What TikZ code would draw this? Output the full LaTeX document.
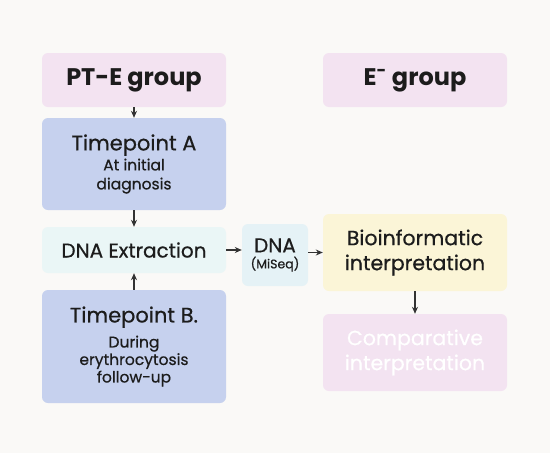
\documentclass[tikz,border=0pt]{standalone}
\usepackage{fontspec}
\setmainfont{Poppins}
\newfontfamily\medfont{Poppins}[FakeBold=0.6]
\usepackage{xcolor}
\usetikzlibrary{positioning,arrows.meta}

\definecolor{bgcol}{HTML}{FAF9F7}
\definecolor{groupcol}{HTML}{F3E3F1}
\definecolor{timecol}{HTML}{C6D1EE}
\definecolor{extrcol}{HTML}{EAF6F6}
\definecolor{seqcol}{HTML}{E5F2F6}
\definecolor{biocol}{HTML}{FBF5D7}
\definecolor{arrowcol}{HTML}{333333}
\definecolor{textcol}{HTML}{1C1C1C}

\newcommand{\bigtxt}{\fontsize{21}{24}\selectfont}

\tikzset{
  box/.style={rounded corners=6pt, draw=none, align=center, inner sep=0pt, text=textcol},
  groupbox/.style={box, fill=groupcol, minimum width=184pt, minimum height=54pt, font=\fontsize{24}{26}\selectfont\bfseries},
  timebox/.style={box, fill=timecol, minimum width=184pt},
  flow/.style={-{Stealth[length=7pt, width=6pt]}, arrowcol, line width=1.1pt}
}

\begin{document}
\begin{tikzpicture}[x=1pt, y=-1pt]

% Background and fixed size
\fill[bgcol] (0,0) rectangle (550,453);
\useasboundingbox (0,0) rectangle (550,453);

% Group headers
\node[groupbox] (pteGroup) at (134, 80) {PT-E group};
\node[groupbox] (eGroup) at (415, 80) {E\textsuperscript{-} group};

% Left column: timepoints and extraction
\node[timebox, minimum height=92pt, font=\medfont\fontsize{15.5}{19}\selectfont] (tpA) at (134, 164)
  {\bigtxt Timepoint A\\[1pt] At initial\\ diagnosis};
\node[box, fill=extrcol, minimum width=184pt, minimum height=46pt,
  font=\medfont\fontsize{20}{22}\selectfont] (dnaExt) at (134, 250) {DNA Extraction};
\node[timebox, minimum height=113pt, font=\medfont\fontsize{15.5}{17.5}\selectfont] (tpB) at (134, 346.5)
  {\bigtxt Timepoint B.\\[7.5pt] During\\ erythrocytosis\\ follow-up};

% Sequencing
\node[box, fill=seqcol, minimum width=66pt, minimum height=62pt,
  font=\medfont\fontsize{12.5}{16}\selectfont] (dnaSeq) at (275, 255)
  {\fontsize{20}{20}\selectfont DNA\\ (MiSeq)};

% Right column
\node[box, fill=biocol, minimum width=184pt, minimum height=77pt,
  font=\medfont\fontsize{20.5}{25}\selectfont] (bioInfo) at (415, 252.5) {Bioinformatic\\ interpretation};
\node[box, fill=groupcol, minimum width=184pt, minimum height=77pt, text=white,
  font=\medfont\fontsize{20.5}{25}\selectfont] (compInterp) at (415, 352.5) {Comparative\\ interpretation};

% Arrows
\draw[flow] (pteGroup) -- (tpA);
\draw[flow] (tpA) -- (dnaExt);
\draw[flow] (tpB) -- (dnaExt);
\draw[flow] (dnaExt.east) -- (dnaExt.east -| dnaSeq.west);
\draw[flow] (dnaSeq.east |- bioInfo) -- (bioInfo.west);
\draw[flow] (bioInfo) -- (compInterp);

\end{tikzpicture}
\end{document}
